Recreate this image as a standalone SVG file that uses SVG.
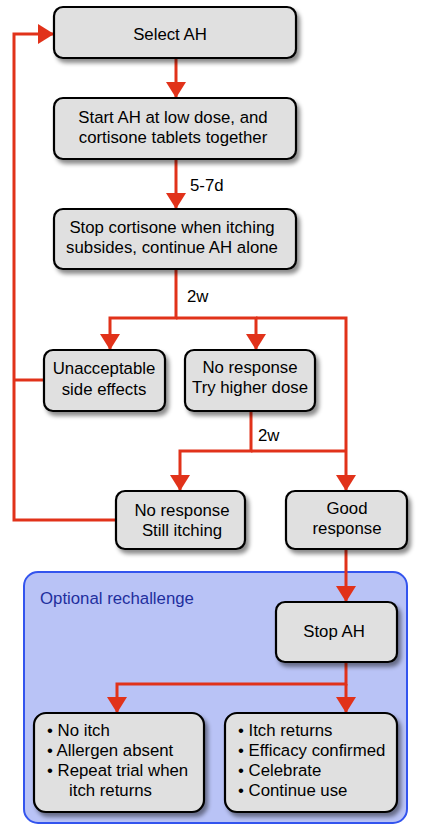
<svg xmlns="http://www.w3.org/2000/svg" width="426" height="835" viewBox="0 0 426 835">
<defs>
<filter id="sh" x="-20%" y="-20%" width="140%" height="150%">
<feDropShadow dx="3" dy="4" stdDeviation="2.2" flood-color="#000" flood-opacity="0.45"/>
</filter>
<marker id="ah" viewBox="0 0 16 20" refX="16" refY="10" markerWidth="16" markerHeight="20" orient="auto" markerUnits="userSpaceOnUse">
<path d="M0,0 L16,10 L0,20 z" fill="#e1321a"/>
</marker>
</defs>
<style>
.box{fill:#e0e0e0;stroke:#000;stroke-width:2.2;filter:url(#sh)}
text{font-family:"Liberation Sans",Arial,Helvetica,sans-serif;font-size:16.8px;fill:#000}
.c{text-anchor:middle}
.edge{fill:none;stroke:#e1321a;stroke-width:3}
</style>
<g id="cluster">
<rect x="24" y="572" width="383" height="251" rx="14" fill="#b9c3f6" stroke="#3354ee" stroke-width="2"/>
<text x="40" y="604" style="fill:#1f2f9e">Optional rechallenge</text>
</g>
<g id="connectors">
<path class="edge" d="M176,58 V98" marker-end="url(#ah)"/>
<path class="edge" d="M176,159 V209" marker-end="url(#ah)"/>
<path class="edge" d="M176,269 V318 H110 V350" marker-end="url(#ah)"/>
<path class="edge" d="M176,318 H256 V350" marker-end="url(#ah)"/>
<path class="edge" d="M256,318 H346 V491" marker-end="url(#ah)"/>
<path class="edge" d="M251,411 V451 H180 V491" marker-end="url(#ah)"/>
<path class="edge" d="M251,451 H346"/>
<path class="edge" d="M44,380 H14"/>
<path class="edge" d="M116,520 H14 V34 H54" marker-end="url(#ah)"/>
<path class="edge" d="M346,549 V602" marker-end="url(#ah)"/>
<path class="edge" d="M346,662 V684 H117 V713" marker-end="url(#ah)"/>
<path class="edge" d="M346,684 V713" marker-end="url(#ah)"/>
<text x="190" y="191">5-7d</text>
<text x="187" y="302">2w</text>
<text x="258" y="441">2w</text>
</g>
<g id="n1">
<rect class="box" x="54" y="7" width="242" height="51" rx="9"/>
<text class="c" x="170" y="40">Select AH</text>
</g>
<g id="n2">
<rect class="box" x="54" y="98" width="242" height="61" rx="9"/>
<text class="c" x="173" y="123">Start AH at low dose, and</text>
<text class="c" x="173" y="143">cortisone tablets together</text>
</g>
<g id="n3">
<rect class="box" x="54" y="209" width="242" height="60" rx="9"/>
<text class="c" x="172" y="233">Stop cortisone when itching</text>
<text class="c" x="172" y="253">subsides, continue AH alone</text>
</g>
<g id="n4">
<rect class="box" x="44" y="350" width="121" height="61" rx="9"/>
<text class="c" x="104" y="374">Unacceptable</text>
<text class="c" x="104" y="395">side effects</text>
</g>
<g id="n5">
<rect class="box" x="185" y="350" width="130" height="61" rx="9"/>
<text class="c" x="250" y="373">No response</text>
<text class="c" x="250" y="393">Try higher dose</text>
</g>
<g id="n6">
<rect class="box" x="116" y="491" width="129" height="58" rx="9"/>
<text class="c" x="182" y="516">No response</text>
<text class="c" x="182" y="536">Still itching</text>
</g>
<g id="n7">
<rect class="box" x="286" y="491" width="121" height="58" rx="9"/>
<text class="c" x="347" y="514">Good</text>
<text class="c" x="347" y="534">response</text>
</g>
<g id="n8">
<rect class="box" x="276" y="602" width="121" height="60" rx="9"/>
<text class="c" x="334" y="637">Stop AH</text>
</g>
<g id="n9">
<rect class="box" x="34" y="713" width="170" height="99" rx="12"/>
<text x="47" y="736">• No itch</text>
<text x="47" y="756">• Allergen absent</text>
<text x="47" y="776">• Repeat trial when</text>
<text x="69" y="796">itch returns</text>
</g>
<g id="n10">
<rect class="box" x="225" y="713" width="172" height="99" rx="12"/>
<text x="238" y="736">• Itch returns</text>
<text x="238" y="756">• Efficacy confirmed</text>
<text x="238" y="776">• Celebrate</text>
<text x="238" y="796">• Continue use</text>
</g>
</svg>
